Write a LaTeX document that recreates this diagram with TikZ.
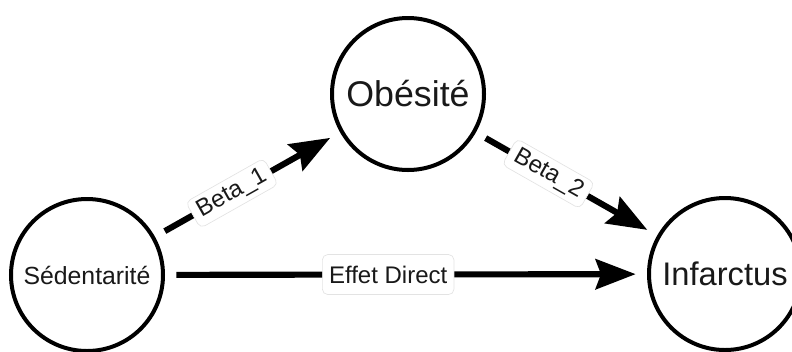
\documentclass[tikz,border=0pt]{standalone}
\usepackage{fontspec}
\setmainfont{Liberation Sans}
\usetikzlibrary{arrows.meta}
\begin{document}
\begin{tikzpicture}[x=0.75pt,y=-0.75pt,
  var/.style={circle,draw=black,line width=3pt,fill=white,minimum size=114pt,inner sep=0pt,text=black!90},
  arr/.style={line width=4.6pt,-{Stealth[length=30pt,width=22.5pt,inset=4pt]},shorten <=8.5pt,shorten >=8.5pt},
  lab/.style={fill=white,draw=gray!22,line width=0.5pt,rounded corners=4pt,inner xsep=5pt,inner ysep=0pt,text=black!90,font=\fontsize{18}{21}\selectfont}
]
\useasboundingbox (0,0) rectangle (792,351);
\node[var,font=\fontsize{26.8}{31}\selectfont] (obe) at (408,94) {Obésité};
\node[var,font=\fontsize{18.6}{22}\selectfont] (sed) at (87,275) {Sédentarité};
\node[var,font=\fontsize{24.5}{29}\selectfont] (inf) at (725,274) {Infarctus};
\draw[arr] (sed) -- node[lab,pos=0.463,minimum height=30pt] (l3) {Effet Direct} (inf);
\draw[arr] (sed) -- node[lab,pos=0.416,sloped,minimum height=22.5pt] (l1) {Beta\_1} (obe);
\draw[arr] (obe) -- node[lab,pos=0.40,sloped,minimum height=22.5pt] (l2) {Beta\_2} (inf);
\end{tikzpicture}
\end{document}
